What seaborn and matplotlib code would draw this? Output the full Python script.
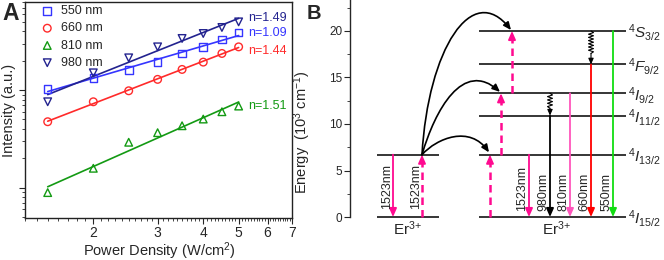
import numpy as np
import pandas as pd
import seaborn as sns
import matplotlib.pyplot as plt
from matplotlib.path import Path
from matplotlib.patches import FancyArrowPatch
from matplotlib.ticker import FixedLocator, NullFormatter, LogLocator, FuncFormatter

# ---- panel A data: emission intensity vs pump power density ----
power = [1.5, 2.0, 2.5, 3.0, 3.5, 4.0, 4.5, 5.0]
int_550 = [1024, 1336, 1614, 1950, 2375, 2775, 3303, 3896]
int_660 = [474, 759, 984, 1288, 1629, 1935, 2375, 2775]
int_810 = [89, 158, 292, 366, 431, 505, 600, 686]
int_980 = [759, 1503, 2141, 2775, 3382, 3803, 4384, 5003]
bands = ['550 nm', '660 nm', '810 nm', '980 nm']
slope_labels = ['n=1.09', 'n=1.44', 'n=1.51', 'n=1.49']

# ---- panel B data: Er3+ energy levels (10^3 cm^-1) ----
level_names = [r'$^4I_{15/2}$', r'$^4I_{13/2}$', r'$^4I_{11/2}$',
               r'$^4I_{9/2}$', r'$^4F_{9/2}$', r'$^4S_{3/2}$']
level_energy = [0, 6.7, 10.9, 13.3, 16.4, 20.0]
sens_energy = [0, 6.7]
emission_labels = ['1523nm', '980nm', '810nm', '660nm', '550nm']
emission_top = [6.7, 10.9, 13.3, 16.4, 20.0]
etu_from = [0, 6.7, 13.3]
etu_to = [6.7, 13.3, 20.0]
relax_from = [20.0, 13.3]
relax_to = [16.4, 10.9]

df = pd.DataFrame({
    'power': power * 4,
    'intensity': int_550 + int_660 + int_810 + int_980,
    'band': np.repeat(bands, len(power)),
})

# styles / layout
colors_a = ['#3535ff', '#ff2a2a', '#139a13', '#23238f']
markers = ['s', 'o', '^', 'v']
label_y = [3830, 2500, 690, 5450]
em_colors = ['#ff0a90', 'black', '#ff55bb', '#ff0000', '#11dd11']
em_x = [529, 550, 570, 591, 613]
etu_x = [490, 501, 512]
relax_x = [591, 550]
mag = '#ff0a90'

sns.set_style('ticks')
plt.rcParams['font.family'] = ['Liberation Sans', 'DejaVu Sans']
plt.rcParams['mathtext.fontset'] = 'custom'
plt.rcParams['mathtext.rm'] = 'Liberation Sans'
plt.rcParams['mathtext.it'] = 'Liberation Sans:italic'
plt.rcParams['mathtext.bf'] = 'Liberation Sans:bold'

fig = plt.figure(figsize=(6.64, 2.6), dpi=100)

# ================= panel A =================
ax = fig.add_axes([25 / 664, 1 - 218.3 / 260, 267 / 664, 216.3 / 260])
ax.set_xscale('log')
ax.set_yscale('log')
for band, col, mk, lab, ly in zip(bands, colors_a, markers, slope_labels, label_y):
    sub = df[df['band'] == band]
    sns.scatterplot(data=sub, x='power', y='intensity', marker=mk, s=30,
                    facecolor='none', edgecolor=col, linewidth=1.0,
                    ax=ax, label=band, zorder=3)
    lx = np.log10(sub['power'].values)
    fit = np.polyfit(lx, np.log10(sub['intensity'].values), 1)
    xs = np.array([power[0], power[-1]])
    ys = 10 ** np.polyval(fit, np.log10(xs))
    sns.lineplot(x=xs, y=ys, color=col, lw=1.2, ax=ax, legend=False)
    ax.text(5.31, ly, lab, color=col, fontsize=9, ha='left', va='center')

ax.set_xlim(1.3, 7)
ax.set_ylim(48.5, 8000)
ax.xaxis.set_major_locator(FixedLocator([2, 3, 4, 5, 6, 7]))
ax.xaxis.set_major_formatter(FuncFormatter(lambda v, p: f'{v:g}'))
ax.xaxis.set_minor_locator(FixedLocator(np.arange(1.3, 7.0, 0.1)))
ax.xaxis.set_minor_formatter(NullFormatter())
ax.yaxis.set_major_locator(LogLocator(base=10))
ax.yaxis.set_minor_locator(LogLocator(base=10, subs=np.arange(2, 10)))
ax.yaxis.set_major_formatter(NullFormatter())
ax.yaxis.set_minor_formatter(NullFormatter())
ax.tick_params(which='major', direction='out', length=4, width=0.8, pad=1.5, labelsize=10)
ax.tick_params(which='minor', direction='out', length=2, width=0.6)
for sp in ax.spines.values():
    sp.set_linewidth(1.0)
    sp.set_color('#222222')
ax.set_xlabel('Power Density (W/cm$^2$)', fontsize=10.5)
ax.set_ylabel('Intensity (a.u.)', fontsize=10.5)
ax.xaxis.set_label_coords(0.502, -0.1)
ax.yaxis.set_label_coords(-0.033, 0.5)
ax.legend(loc='upper left', bbox_to_anchor=(0.06, 0.985), frameon=False, fontsize=9,
          handlelength=1.0, handletextpad=0.6, labelspacing=0.42,
          borderaxespad=0, borderpad=0)
fig.text(2 / 664, 1 - 2 / 260, 'A', fontsize=16.5, fontweight='bold', ha='left', va='top')

# ================= panel B =================
ax2 = fig.add_axes([350 / 664, 0, 314 / 664, 1])
ax2.set_facecolor('none')
ax2.set_xlim(350, 664)
ax2.set_ylim(-4.62, 23.33)
for s in ['top', 'right', 'bottom']:
    ax2.spines[s].set_visible(False)
ax2.spines['left'].set_bounds(0, 23.33)
ax2.spines['left'].set_linewidth(1.0)
ax2.set_xticks([])
ax2.yaxis.set_major_locator(FixedLocator([0, 5, 10, 15, 20]))
ax2.yaxis.set_minor_locator(FixedLocator([2.5, 7.5, 12.5, 17.5, 22.5]))
ax2.tick_params(axis='y', which='major', direction='out', length=4, width=0.8, pad=1.5, labelsize=8.5)
ax2.tick_params(axis='y', which='minor', direction='out', length=2, width=0.6)
ax2.set_ylabel('Energy  (10$^3$ cm$^{-1}$)', fontsize=10.5)
ax2.yaxis.set_label_coords(-0.118, 0.49)
fig.text(307 / 664, 1 - 4 / 260, 'B', fontsize=14.5, fontweight='bold', ha='left', va='top')

head = '-|>,head_length=0.5,head_width=0.22'

# levels
ax2.hlines(level_energy, 479, 626, color='black', lw=1.1)
ax2.hlines(sens_energy, 377, 439, color='black', lw=1.1)
for name, e in zip(level_names, level_energy):
    ax2.text(628, e - 0.2, name, fontsize=11, ha='left', va='center')
ax2.text(408, -1.3, 'Er$^{3\\!+}$', fontsize=11, ha='center', va='center')
ax2.text(557, -1.3, 'Er$^{3\\!+}$', fontsize=11, ha='center', va='center')


def arrow(x, y0, y1, col, lw=1.3, ms=10):
    ax2.annotate('', xy=(x, y1), xytext=(x, y0),
                 arrowprops=dict(arrowstyle=head, mutation_scale=ms, color=col,
                                 lw=lw, shrinkA=0, shrinkB=0))


def dashed_up(x, y0, y1):
    ax2.plot([x, x], [y0, y1 - 0.6], color=mag, lw=1.8, ls=(0, (3, 2)))
    arrow(x, y1 - 0.9, y1, mag)


# sensitizer (left Er3+)
arrow(393, sens_energy[1], sens_energy[0], mag)
dashed_up(422, sens_energy[0], sens_energy[1])
for x in [387, 416]:
    ax2.text(x, 0.9, '1523nm', rotation=90, rotation_mode='anchor',
             ha='left', va='center', fontsize=9)

# energy transfer up-conversion steps
for x, y0, y1 in zip(etu_x, etu_from, etu_to):
    dashed_up(x, y0, y1)

# curved transfer arrows from sensitizer
curves = [
    [(422, 6.7), (437, 8.5), (470, 9.9), (489, 6.95)],
    [(422, 6.7), (435, 11.5), (463, 17.0), (500, 13.45)],
    [(422, 6.7), (428, 18.0), (472, 25.5), (511, 20.1)],
]
for pts in curves:
    path = Path(pts, [Path.MOVETO, Path.CURVE4, Path.CURVE4, Path.CURVE4])
    ax2.add_patch(FancyArrowPatch(path=path, arrowstyle=head, mutation_scale=9,
                                  color='black', lw=1.2))

# emissions
for x, top, col, lab in zip(em_x, emission_top, em_colors, emission_labels):
    arrow(x, top, 0, col)
    ax2.text(x - 6.5, 0.7, lab, rotation=90, rotation_mode='anchor',
             ha='left', va='center', fontsize=9)

# non-radiative relaxation (zigzag)
for x, y0, y1 in zip(relax_x, relax_from, relax_to):
    zig_end = y1 + 0.33 * (y0 - y1)
    n = int(round((y0 - zig_end) / 0.17)) + 1
    k = np.arange(n)
    ys = np.linspace(y0, zig_end, n)
    xs = x + np.where(k % 2 == 1, 2.5, -2.5)
    xs[0] = xs[-1] = x
    ax2.plot(xs, ys, color='black', lw=0.8)
    arrow(x, zig_end, y1, 'black', lw=0.8, ms=7)

fig.savefig('out.png', dpi=100)
